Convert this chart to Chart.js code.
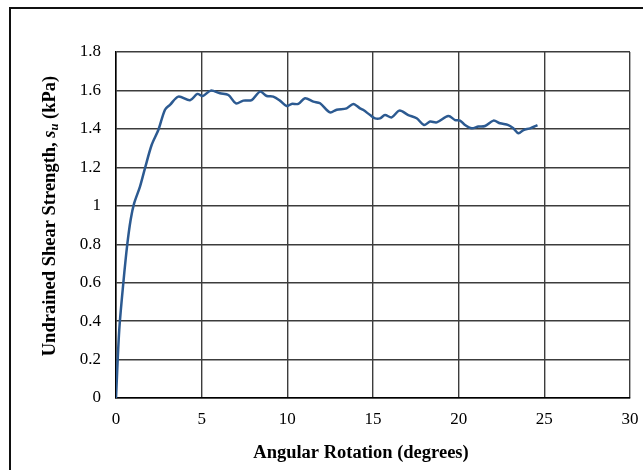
<!DOCTYPE html>
<html>
<head>
<meta charset="utf-8">
<script src="https://cdn.jsdelivr.net/npm/chart.js@4"></script>
<style>
  body { margin: 0; background: #fff; }
  #wrap { position: relative; width: 643px; height: 470px; overflow: hidden; }
  #frame {
    position: absolute; left: 9px; top: 7px; width: 700px; height: 520px;
    border: 2px solid #111; pointer-events: none;
  }
</style>
</head>
<body>
<div id="wrap">
  <canvas id="grafico" width="643" height="470"></canvas>
  <div id="frame"></div>
</div>
<script>
// rotacao angular (graus) x resistencia ao cisalhamento nao drenada (kPa)
const angulo = [0, 0.19, 0.43, 0.66, 0.86, 1.05, 1.40, 1.69, 2.08, 2.47, 2.86, 3.15, 3.64, 4.32, 4.75,
  5.06, 5.53, 6.07, 6.56, 7.0, 7.43, 7.92, 8.41, 8.80, 9.18, 9.57, 9.96, 10.25, 10.64, 11.03,
  11.52, 11.91, 12.49, 12.88, 13.46, 13.85, 14.24, 14.44, 14.83, 15.12, 15.41, 15.70, 16.09, 16.54,
  17.06, 17.55, 17.98, 18.33, 18.72, 19.40, 19.79, 20.08, 20.37, 20.76, 21.15, 21.54, 22.03,
  22.42, 22.90, 23.19, 23.49, 23.78, 24.17, 24.60];
const resistencia = [0, 0.354, 0.60, 0.80, 0.93, 1.01, 1.10, 1.195, 1.316, 1.394, 1.50, 1.525, 1.568, 1.549, 1.582,
  1.571, 1.599, 1.585, 1.576, 1.533, 1.547, 1.55, 1.594, 1.571, 1.568, 1.547, 1.519, 1.530, 1.530, 1.559,
  1.542, 1.533, 1.486, 1.50, 1.507, 1.530, 1.507, 1.498, 1.472, 1.455, 1.455, 1.472, 1.460, 1.495,
  1.472, 1.455, 1.420, 1.438, 1.434, 1.467, 1.446, 1.443, 1.420, 1.403, 1.412, 1.415, 1.443,
  1.429, 1.420, 1.403, 1.377, 1.394, 1.403, 1.420];

const tituloX = 'Angular Rotation (degrees)';
const tituloY = ['Undrained Shear Strength, ', 's', 'u', ' (kPa)'];

const fonte = '"Liberation Serif", "Times New Roman", serif';
const corGrade = '#3c3c3c';

// titulos dos eixos (o do Y tem o "s" italico e o "u" subscrito)
const titulosEixos = {
  id: 'titulosEixos',
  afterDraw(chart) {
    const ctx = chart.ctx;
    const normal = 'bold 18.5px ' + fonte;
    const italico = 'italic bold 18.5px ' + fonte;
    const sub = 'italic bold 12.5px ' + fonte;

    ctx.save();
    ctx.fillStyle = '#000';
    ctx.textBaseline = 'middle';
    ctx.textAlign = 'center';
    ctx.font = normal;
    ctx.fillText(tituloX, 361, 453);
    ctx.restore();

    const partes = [
      { t: tituloY[0], f: normal, dy: 0 },
      { t: tituloY[1], f: italico, dy: 0 },
      { t: tituloY[2], f: sub, dy: 5 },
      { t: tituloY[3], f: normal, dy: 0 }
    ];
    ctx.save();
    let total = 0;
    partes.forEach(p => { ctx.font = p.f; p.w = ctx.measureText(p.t).width; total += p.w; });
    ctx.translate(50, 216);
    ctx.rotate(-Math.PI / 2);
    ctx.fillStyle = '#000';
    ctx.textBaseline = 'middle';
    let x = -total / 2;
    partes.forEach(p => {
      ctx.font = p.f;
      ctx.fillText(p.t, x, p.dy);
      x += p.w;
    });
    ctx.restore();
  }
};

const ctx = document.getElementById('grafico').getContext('2d');
new Chart(ctx, {
  type: 'scatter',
  data: {
    datasets: [{
      data: angulo.map((a, i) => ({ x: a, y: resistencia[i] })),
      showLine: true,
      borderColor: '#2C5A91',
      borderWidth: 2.5,
      pointRadius: 0,
      tension: 0.3,
      fill: false
    }]
  },
  options: {
    responsive: false,
    animation: false,
    layout: { padding: { top: 52, right: 13, left: 0, bottom: 0 } },
    plugins: {
      legend: { display: false },
      tooltip: { enabled: false }
    },
    scales: {
      x: {
        type: 'linear',
        min: 0,
        max: 30,
        afterFit(scale) {
          scale.height = 72;
          // o rotulo "30" pode passar da borda
          scale.paddingRight = 0;
          scale.paddingLeft = 0;
        },
        ticks: {
          stepSize: 5,
          padding: 11,
          color: '#000',
          font: { family: fonte, size: 17 }
        },
        grid: { color: corGrade, lineWidth: 1.4, drawTicks: false },
        border: { color: '#000', width: 1.5 }
      },
      y: {
        min: 0,
        max: 1.8,
        afterFit(scale) {
          scale.width = 116;
          scale.paddingTop = 0;
          scale.paddingBottom = 0;
        },
        ticks: {
          stepSize: 0.2,
          padding: 15,
          color: '#000',
          font: { family: fonte, size: 17 },
          callback: v => String(Number(v.toFixed(1)))
        },
        grid: { color: corGrade, lineWidth: 1.4, drawTicks: false },
        border: { color: '#000', width: 1.5 }
      }
    }
  },
  plugins: [titulosEixos]
});
</script>
</body>
</html>
